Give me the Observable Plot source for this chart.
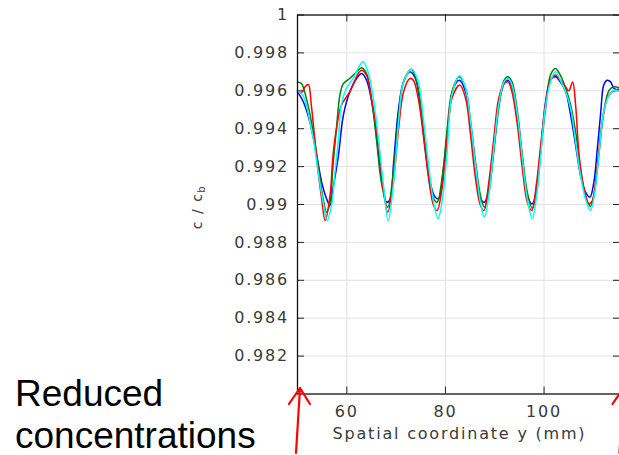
<!DOCTYPE html>
<html><head><meta charset="utf-8">
<script src="https://cdn.jsdelivr.net/npm/d3@7"></script>
<script src="https://cdn.jsdelivr.net/npm/@observablehq/plot@0.6"></script>
<style>
html,body{margin:0;padding:0;background:#fff;overflow:hidden;width:619px;height:455px;}
#chart{position:relative;width:619px;height:455px;overflow:hidden;}
#chart svg{max-width:none !important;display:block;}
</style></head><body><div id="chart"></div>
<script>
// ---- data ----
const xTicks = [60, 80, 100];
const yTicks = [0.982, 0.984, 0.986, 0.988, 0.99, 0.992, 0.994, 0.996, 0.998, 1];
const xDomain = [50, 115.5];
const yDomain = [0.98, 1];
const xLabel = "Spatial coordinate y (mm)";
const annotationLines = ["Reduced", "concentrations"];

const blueX = [50.0,51.2,52.5,53.9,54.9,55.9,56.6,57.2,58.3,59.3,60.6,62.0,63.0,64.0,65.4,66.5,67.4,68.1,68.8,69.5,70.5,71.5,72.8,73.9,74.9,75.9,76.9,77.9,78.6,79.6,80.6,81.6,82.8,84.1,85.1,86.1,87.1,87.9,88.8,89.8,90.8,91.9,92.7,93.5,94.6,95.6,96.6,97.6,98.5,99.3,100.3,101.3,102.3,103.3,104.4,105.4,106.4,107.4,108.4,109.3,110.1,110.8,111.5,112.1,112.8,113.5,114.2,115.5];
const blueY = [0.99594,0.99541,0.99436,0.99259,0.99118,0.9903,0.98995,0.99083,0.99259,0.99471,0.99594,0.99665,0.99691,0.99656,0.99488,0.9925,0.9908,0.99012,0.9903,0.99224,0.99506,0.99647,0.997,0.99665,0.99524,0.99294,0.99118,0.99039,0.9903,0.99188,0.99436,0.99612,0.99656,0.99594,0.99418,0.99206,0.9903,0.99012,0.99083,0.99294,0.99524,0.99638,0.99656,0.99621,0.99453,0.99242,0.99048,0.99003,0.99083,0.9928,0.99541,0.99656,0.99674,0.99647,0.99594,0.99471,0.99312,0.99153,0.99065,0.99039,0.99118,0.99294,0.99488,0.9963,0.99656,0.99647,0.99612,0.99603];

const redX = [50.0,50.8,51.5,52.2,52.8,53.5,54.2,54.9,55.6,56.6,57.2,57.9,58.9,60.6,62.3,63.0,64.0,65.0,66.4,67.3,68.3,69.5,70.5,71.5,72.8,73.5,74.5,75.6,76.6,77.6,78.3,79.3,80.3,81.3,82.9,84.1,85.1,86.1,87.1,87.8,88.8,89.8,90.8,91.9,92.7,93.5,94.6,95.6,96.6,97.5,98.5,99.3,100.3,101.3,102.3,103.3,104.4,105.0,105.8,106.4,107.1,108.1,109.1,109.8,110.8,111.8,112.8,113.8,115.5];
const redY = [0.996,0.9959,0.9962,0.99633,0.99524,0.99347,0.9917,0.9903,0.98915,0.99048,0.99259,0.994,0.99524,0.99594,0.9969,0.99709,0.99682,0.99559,0.9933,0.991,0.9896,0.99136,0.994,0.99594,0.99665,0.99656,0.99559,0.99347,0.99136,0.98995,0.98968,0.99083,0.9933,0.99559,0.9963,0.99559,0.99365,0.99136,0.98995,0.98968,0.99118,0.99347,0.99559,0.99638,0.99647,0.99594,0.99418,0.99189,0.99012,0.98968,0.99118,0.9931,0.99524,0.99656,0.99683,0.99656,0.9962,0.996,0.99647,0.99524,0.99259,0.99083,0.99003,0.9902,0.99206,0.99436,0.99559,0.99594,0.99612];

const greenX = [50.0,50.8,51.8,53.2,54.2,55.2,55.9,56.6,57.2,57.9,58.6,59.3,60.6,62.0,63.0,64.0,65.0,66.0,67.0,68.3,69.5,70.5,71.5,73.1,74.2,75.2,76.2,77.3,78.3,79.3,80.3,81.3,82.8,84.1,85.1,86.1,87.1,87.9,88.8,89.8,90.8,91.9,92.7,93.5,94.6,95.6,96.6,97.6,98.5,99.3,100.3,101.3,102.3,103.3,104.4,105.4,106.4,107.4,108.4,109.4,110.2,111.1,112.1,113.2,114.2,115.5];
const greenY = [0.99647,0.99638,0.99559,0.99383,0.99206,0.9903,0.98959,0.99012,0.99206,0.994,0.99577,0.99638,0.99665,0.997,0.99721,0.99691,0.99559,0.99347,0.99118,0.98986,0.99189,0.99471,0.99647,0.99714,0.99647,0.99471,0.99242,0.99048,0.99012,0.99136,0.99383,0.99594,0.99674,0.99612,0.99436,0.99224,0.99048,0.98986,0.99065,0.99277,0.99506,0.99656,0.99674,0.99647,0.99488,0.99259,0.99065,0.9898,0.99065,0.99277,0.99506,0.99683,0.99718,0.99683,0.99612,0.99524,0.99383,0.99189,0.99048,0.9899,0.99065,0.99259,0.99488,0.99603,0.99621,0.99612];

const cyanX = [50.0,51.0,51.8,52.5,53.2,54.2,55.2,56.0,56.9,57.6,58.3,58.9,59.9,61.3,62.3,63.3,64.3,65.4,66.4,67.4,68.4,69.5,70.5,71.5,73.2,74.5,75.6,76.6,77.6,78.5,79.3,80.3,81.3,82.9,84.1,85.1,86.1,87.1,87.9,88.8,89.8,90.8,91.9,92.7,93.5,94.6,95.6,96.6,97.6,98.5,99.3,100.2,101.3,102.3,103.3,104.4,105.4,106.4,107.4,108.4,109.4,110.2,111.1,112.1,113.2,114.2,115.5];
const cyanY = [0.996,0.9958,0.99524,0.9944,0.99347,0.9917,0.99012,0.98915,0.98995,0.9917,0.99347,0.99524,0.99612,0.99665,0.99718,0.99753,0.997,0.99559,0.99347,0.9911,0.98915,0.99118,0.99436,0.99647,0.99714,0.99647,0.99436,0.99206,0.99012,0.98924,0.99012,0.99259,0.99577,0.9968,0.99612,0.99436,0.99206,0.99012,0.98933,0.99048,0.99294,0.99524,0.99647,0.99665,0.9963,0.99471,0.99242,0.9903,0.98924,0.99048,0.9925,0.995,0.99647,0.997,0.99656,0.99594,0.99506,0.9933,0.99153,0.9903,0.98968,0.99048,0.99259,0.99488,0.99577,0.99603,0.99594];

const seriesNames = ["blue", "green", "red", "cyan"];
const seriesColors = ["#0000ff", "#3cb35a", "#ff0000", "#00ffff"];
const seriesX = {blue: blueX, green: greenX, red: redX, cyan: cyanX};
const seriesY = {blue: blueY, green: greenY, red: redY, cyan: cyanY};

const rows = [];
for (const s of seriesNames) seriesX[s].forEach((x, i) => rows.push({series: s, x, y: seriesY[s][i]}));

// ---- layout ----
const W = 630, H = 455, mL = 297, mR = 10, mT = 14.5, mB = 61.5;
const plotW = W - mL - mR, plotH = H - mT - mB;
const tickLen = 7;

const chart = Plot.plot({
  width: W, height: H,
  marginLeft: mL, marginRight: mR, marginTop: mT, marginBottom: mB,
  style: {fontFamily: "DejaVu Sans", fontSize: "16px", letterSpacing: "1.8px", color: "#3a3a3a", background: "white", overflow: "visible", maxWidth: "none"},
  x: {domain: xDomain},
  y: {domain: yDomain},
  color: {domain: seriesNames, range: seriesColors},
  marks: [
    Plot.ruleX(xTicks, {stroke: "#e2e2e2", strokeWidth: 1}),
    Plot.ruleY(yTicks, {stroke: "#e2e2e2", strokeWidth: 1}),
    Plot.tickY(yTicks, {y: d => d, insetRight: plotW - tickLen, stroke: "#222"}),
    Plot.tickY(yTicks, {y: d => d, insetLeft: plotW - tickLen, stroke: "#222"}),
    Plot.tickX(xTicks, {x: d => d, insetBottom: plotH - tickLen, stroke: "#222"}),
    Plot.tickX(xTicks, {x: d => d, insetTop: plotH - tickLen, stroke: "#222"}),
    Plot.line(rows, {x: "x", y: "y", z: "series", stroke: "series", curve: "catmull-rom", strokeWidth: 1.5}),
    Plot.frame({stroke: "#111", strokeWidth: 1.3}),
    Plot.axisY(yTicks, {tickSize: 0, tickPadding: 8.5, tickFormat: d3.format(".3~f"), label: null}),
    Plot.axisX(xTicks, {tickSize: 0, tickPadding: 12, tickFormat: d => String(d), label: null})
  ]
});

document.getElementById("chart").appendChild(chart);

// ---- annotations positioned from the chart's own scales ----
const sx = chart.scale("x"), sy = chart.scale("y");
const svg = d3.select(chart);
const x0 = sx.apply(xDomain[0]), x1 = sx.apply(xDomain[1]);
const yb = sy.apply(yDomain[0]);

// y-axis title
const yt = svg.append("text")
  .attr("transform", `translate(202,${(sy.apply(yDomain[0]) + sy.apply(yDomain[1])) / 2 + 3}) rotate(-90)`)
  .attr("text-anchor", "middle")
  .attr("font-family", "DejaVu Sans").attr("font-size", 14).attr("letter-spacing", "1.5px")
  .attr("fill", "#3a3a3a");
yt.append("tspan").text("c / c");
yt.append("tspan").attr("dy", "0.32em").attr("font-size", 10).text("b");

// x-axis title
svg.append("text")
  .attr("x", (x0 + x1) / 2 + 1).attr("y", yb + 45)
  .attr("text-anchor", "middle")
  .attr("font-family", "DejaVu Sans").attr("font-size", 16).attr("letter-spacing", "1.8px")
  .attr("fill", "#3a3a3a")
  .text(xLabel);

// "Reduced concentrations"
annotationLines.forEach((t, i) => {
  svg.append("text")
    .attr("x", 15).attr("y", 406 + i * 42)
    .attr("text-anchor", "start")
    .attr("font-family", "Liberation Sans, Arial, sans-serif").attr("font-size", 37)
    .attr("letter-spacing", "0px").attr("fill", "#000")
    .text(t);
});

// red arrows pointing at both ends of the domain
function arrow(xc) {
  const tipX = xc + 3, tipY = yb - 5.5;
  svg.append("path")
    .attr("d", `M${xc - 1},${H - 2} L${tipX},${tipY} M${tipX - 11},${tipY + 16} L${tipX},${tipY} L${tipX + 10},${tipY + 16}`)
    .attr("fill", "none").attr("stroke", "#ff0000").attr("stroke-width", 2.2)
    .attr("stroke-linecap", "round").attr("stroke-linejoin", "round");
}
arrow(x0);
arrow(x1 + 0.5);
</script>
</body></html>
